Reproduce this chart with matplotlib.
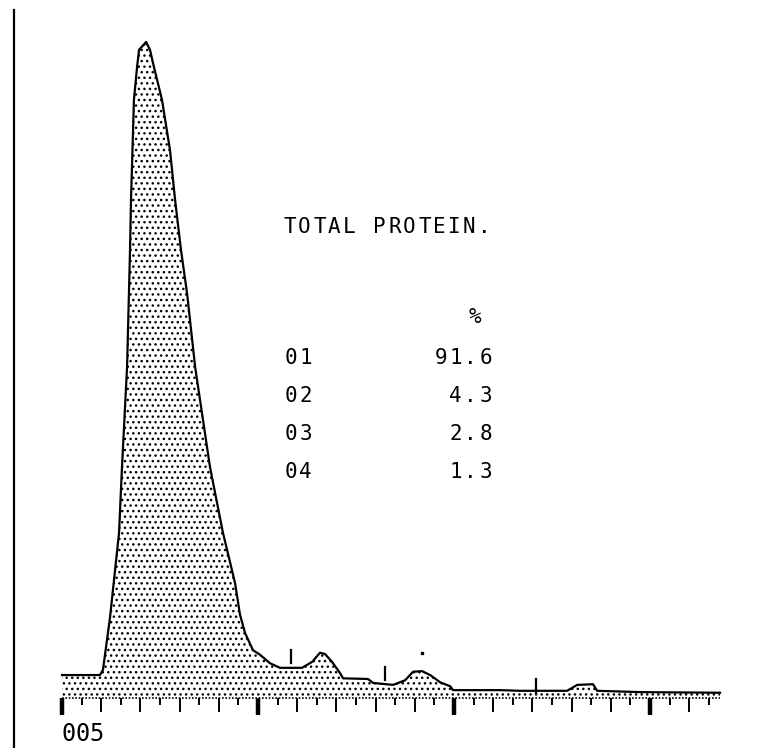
import matplotlib.pyplot as plt

# densitometer trace: position in scale divisions, height in % of main peak
pos = [0, 1.94, 2.09, 2.45, 2.91, 3.06, 3.32, 3.47, 3.52, 3.67, 3.83, 3.93,
       4.29, 4.49, 4.69, 5.10, 5.51, 5.77, 6.07, 6.38, 6.79, 7.55, 8.21, 8.83,
       9.08, 9.34, 9.74, 10.10, 10.61, 11.12, 12.24, 12.76, 13.16, 13.42, 13.78,
       14.18, 14.34, 15.61, 15.87, 16.89, 17.50, 17.91, 18.37, 18.78, 19.29,
       19.80, 19.95, 22.35, 23.37, 25.77, 26.28, 27.09, 27.30, 29.49, 33.57]
hoehe = [3.5, 3.5, 4.3, 12.3, 25.2, 35.2, 50.5, 68.3, 75.9, 91.2, 96.2, 98.8,
         100, 98.8, 96.2, 91.2, 83.5, 75.9, 68.3, 61.7, 50.5, 35.2, 25.2, 17.5,
         12.7, 9.9, 7.3, 6.6, 5.3, 4.6, 4.6, 5.5, 6.9, 6.7, 5.5,
         3.8, 3.0, 2.9, 2.3, 2.0, 2.7, 4.0, 4.1, 3.5, 2.4,
         1.8, 1.2, 1.2, 1.1, 1.1, 2.0, 2.1, 1.1, 0.9, 0.8]

# fraction cut marks (position, top, bottom)
cut_pos = [11.68, 16.48, 24.18]
cut_top = [7.3, 4.7, 2.9]
cut_bot = [5.3, 2.7, 0.8]

fraksi = ['01', '02', '03', '04']
persen = ['91.6', '4.3', '2.8', '1.3']
judul = 'TOTAL PROTEIN.'
nomor = '005'
n_tick = 34

fig = plt.figure(figsize=(7.62, 7.48), dpi=100)
ax = fig.add_axes([0, 0, 1, 1])
ax.set_xlim(-3.163, 35.71)
ax.set_ylim(-7.62, 106.4)
ax.axis('off')

plt.rcParams['hatch.linewidth'] = 1.0
ax.fill_between(pos, 0, hoehe, facecolor='white', edgecolor='black',
                hatch='...', linewidth=0)
ax.plot(pos, hoehe, color='black', lw=1.6)

# dotted baseline
ax.plot([0, pos[-1]], [0, 0], color='black', lw=1.2, ls=(0, (1, 1)))

# scale ticks
for i in range(n_tick):
    if i % 10 == 0:
        ax.plot([i, i], [0, -2.6], color='black', lw=3.2, solid_capstyle='butt')
    elif i % 2 == 0:
        ax.plot([i, i], [0, -2.2], color='black', lw=1.4, solid_capstyle='butt')
    else:
        ax.plot([i, i], [0, -1.0], color='black', lw=1.4, solid_capstyle='butt')

for x, t, b in zip(cut_pos, cut_top, cut_bot):
    ax.plot([x, x], [b, t], color='black', lw=1.6)
ax.plot([18.37], [6.9], marker='s', ms=2, color='black')

# left edge line of the strip
ax.plot([-2.45, -2.45], [-7.62, 104.9], color='black', lw=1.6)


def tulis(s, x0, y, size=15, pitch=0.765):
    for i, ch in enumerate(s):
        ax.text(x0 + (i + 0.5) * pitch, y, ch, ha='center', va='center',
                fontsize=size, family='DejaVu Sans Mono', color='black')


tulis(judul, 11.22, 71.8)
tulis('%', 20.7, 58.1)
baris_y = [51.9, 46.1, 40.2, 34.4]
for f, p, y in zip(fraksi, persen, baris_y):
    tulis(f, 11.28, y)
    tulis(p, 21.99 - len(p) * 0.765, y)

tulis(nomor, 0.0, -5.5, size=17, pitch=0.70)

plt.savefig('out.png', dpi=100)
